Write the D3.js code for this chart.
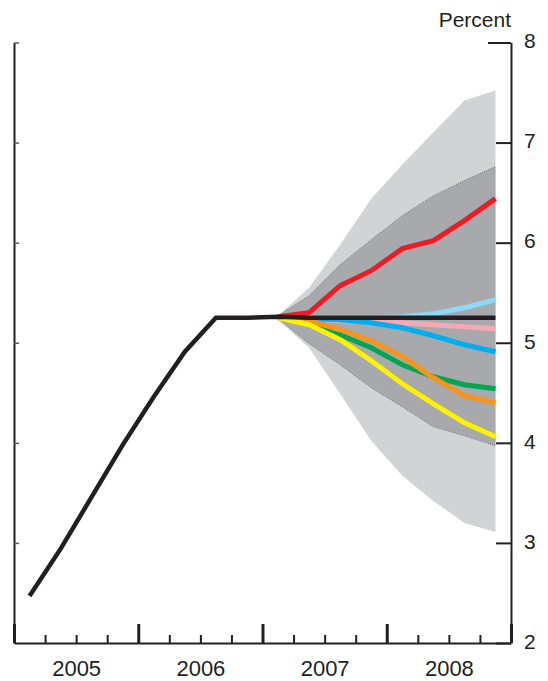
<!DOCTYPE html>
<html>
<head>
<meta charset="utf-8">
<script src="https://cdn.jsdelivr.net/npm/d3@7"></script>
<style>
  html, body { margin: 0; padding: 0; background: #fff; }
  svg { display: block; }
  text { font-family: "Liberation Sans", Arial, sans-serif; fill: #231f20; }
</style>
</head>
<body>
<svg id="chart" width="548" height="681"></svg>
<script>
// ---------------- DATA ----------------
const histQuarters = ["2005Q1","2005Q2","2005Q3","2005Q4","2006Q1","2006Q2","2006Q3","2006Q4",
                      "2007Q1","2007Q2","2007Q3","2007Q4","2008Q1","2008Q2","2008Q3","2008Q4"];
const fedFunds = [2.47, 2.94, 3.46, 3.98, 4.46, 4.91, 5.25, 5.25,
                  5.26, 5.25, 5.25, 5.25, 5.25, 5.25, 5.25, 5.25];

const fcQuarters = ["2007Q1","2007Q2","2007Q3","2007Q4","2008Q1","2008Q2","2008Q3","2008Q4"];
const outerUpper = [5.27, 5.55, 5.98, 6.44, 6.78, 7.10, 7.42, 7.52];
const innerUpper = [5.27, 5.47, 5.78, 6.03, 6.27, 6.47, 6.62, 6.76];
const innerLower = [5.24, 4.99, 4.78, 4.55, 4.36, 4.16, 4.07, 3.97];
const outerLower = [5.23, 4.95, 4.49, 4.02, 3.67, 3.42, 3.20, 3.11];

const skyPath    = [5.25, 5.25, 5.25, 5.25, 5.26, 5.29, 5.35, 5.43];
const pinkPath   = [5.25, 5.24, 5.22, 5.21, 5.20, 5.18, 5.16, 5.14];
const bluePath   = [5.25, 5.24, 5.23, 5.20, 5.15, 5.07, 4.98, 4.91];
const greenPath  = [5.25, 5.23, 5.08, 4.95, 4.78, 4.66, 4.58, 4.54];
const orangePath = [5.25, 5.22, 5.13, 5.02, 4.86, 4.65, 4.47, 4.40];
const yellowPath = [5.25, 5.18, 5.03, 4.82, 4.59, 4.39, 4.20, 4.06];
const redPath    = [5.26, 5.30, 5.57, 5.72, 5.94, 6.02, 6.22, 6.44];

const yearLabels = ["2005", "2006", "2007", "2008"];
const yTicks = [2, 3, 4, 5, 6, 7, 8];

// ---------------- LAYOUT ----------------
const svg = d3.select("#chart");
const ink = "#231f20";
const x = d3.scaleLinear().domain([2005, 2009]).range([14, 511]);
const y = d3.scaleLinear().domain([2, 8]).range([643, 42.5]);
const qx = q => { const yr = +q.slice(0, 4), n = +q.slice(5); return yr + (n - 0.5) / 4; };

// ---------------- FAN ----------------
const fc = fcQuarters.map((q, i) => ({
  t: qx(q), oU: outerUpper[i], iU: innerUpper[i], iL: innerLower[i], oL: outerLower[i]
}));
svg.append("path").datum(fc)
  .attr("fill", "#d1d3d4")
  .attr("d", d3.area().x(d => x(d.t)).y0(d => y(d.oL)).y1(d => y(d.oU)));
svg.append("path").datum(fc)
  .attr("fill", "#a7a9ac")
  .attr("d", d3.area().x(d => x(d.t)).y0(d => y(d.iL)).y1(d => y(d.iU)));
["iU", "iL"].forEach(k => {
  svg.append("path").datum(fc)
    .attr("fill", "none").attr("stroke", "#58595b")
    .attr("stroke-width", 0.7).attr("stroke-dasharray", "1,1.2")
    .attr("d", d3.line().x(d => x(d.t)).y(d => y(d[k])));
});

// ---------------- PATH LINES ----------------
const line = d3.line().x(d => x(d[0])).y(d => y(d[1]));
const series = [
  [skyPath, "#8ed8f8"],
  [pinkPath, "#f5a8b5"],
  [bluePath, "#00aeef"],
  [greenPath, "#00a651"],
  [orangePath, "#f7941d"],
  [yellowPath, "#fff200"],
  [redPath, "#ed1c24"]
];
series.forEach(([vals, col]) => {
  svg.append("path")
    .datum(fcQuarters.map((q, i) => [qx(q), vals[i]]))
    .attr("fill", "none").attr("stroke", col)
    .attr("stroke-width", 5).attr("stroke-linejoin", "miter")
    .attr("d", line);
});

svg.append("path")
  .datum(histQuarters.map((q, i) => [qx(q), fedFunds[i]]))
  .attr("fill", "none").attr("stroke", ink)
  .attr("stroke-width", 4.5).attr("stroke-linejoin", "miter")
  .attr("d", line);

// ---------------- AXES ----------------
// left axis (small inward ticks, no labels)
const gL = svg.append("g").attr("transform", `translate(${x(2005)},0)`)
  .call(d3.axisRight(y).tickValues(yTicks.slice(1)).tickSizeInner(5).tickSizeOuter(0).tickFormat(""));
gL.select(".domain").attr("stroke", ink).attr("stroke-width", 2);
gL.selectAll(".tick line").attr("stroke", "#58595b").attr("stroke-width", 1.5);

// right axis (ticks inward, labels outside)
const gR = svg.append("g").attr("transform", `translate(${x(2009)},0)`)
  .call(d3.axisRight(y).tickValues(yTicks).tickSizeInner(-15).tickSizeOuter(0).tickPadding(13).tickFormat(d3.format("d")));
gR.select(".domain").attr("stroke", ink).attr("stroke-width", 2);
gR.selectAll(".tick line").attr("stroke", ink).attr("stroke-width", 2)
  .filter(d => d === 8).attr("x2", -23);
gR.selectAll(".tick text").attr("font-size", 21).attr("dy", "0.25em")
  .style("font-family", "'Liberation Sans', Arial, sans-serif").attr("fill", ink);

svg.append("text").attr("x", 511).attr("y", 27).attr("text-anchor", "end")
  .attr("font-size", 21).text("Percent");

// bottom axis: minor (quarter) ticks
const qBounds = d3.range(0, 17).map(i => 2005 + i / 4);
const gB1 = svg.append("g").attr("transform", `translate(0,${y(2)})`)
  .call(d3.axisBottom(x).tickValues(qBounds.filter((d, i) => i % 4 !== 0)).tickSizeInner(-8).tickSizeOuter(0).tickFormat(""));
gB1.select(".domain").attr("stroke", ink).attr("stroke-width", 2);
gB1.selectAll(".tick line").attr("stroke", ink).attr("stroke-width", 2);

// bottom axis: major (year) ticks
const gB2 = svg.append("g").attr("transform", `translate(0,${y(2)})`)
  .call(d3.axisBottom(x).tickValues(qBounds.filter((d, i) => i % 4 === 0)).tickSizeInner(-19).tickSizeOuter(0).tickFormat(""));
gB2.select(".domain").remove();
gB2.selectAll(".tick line").attr("stroke", ink).attr("stroke-width", 3);

// year labels
const gB3 = svg.append("g").attr("transform", `translate(0,${y(2)})`)
  .call(d3.axisBottom(x).tickValues(yearLabels.map(s => +s + 0.5)).tickSize(0).tickPadding(17).tickFormat((d, i) => yearLabels[i]));
gB3.select(".domain").remove();
gB3.selectAll(".tick text").attr("font-size", 22)
  .style("font-family", "'Liberation Sans', Arial, sans-serif").attr("fill", ink);
</script>
</body>
</html>
